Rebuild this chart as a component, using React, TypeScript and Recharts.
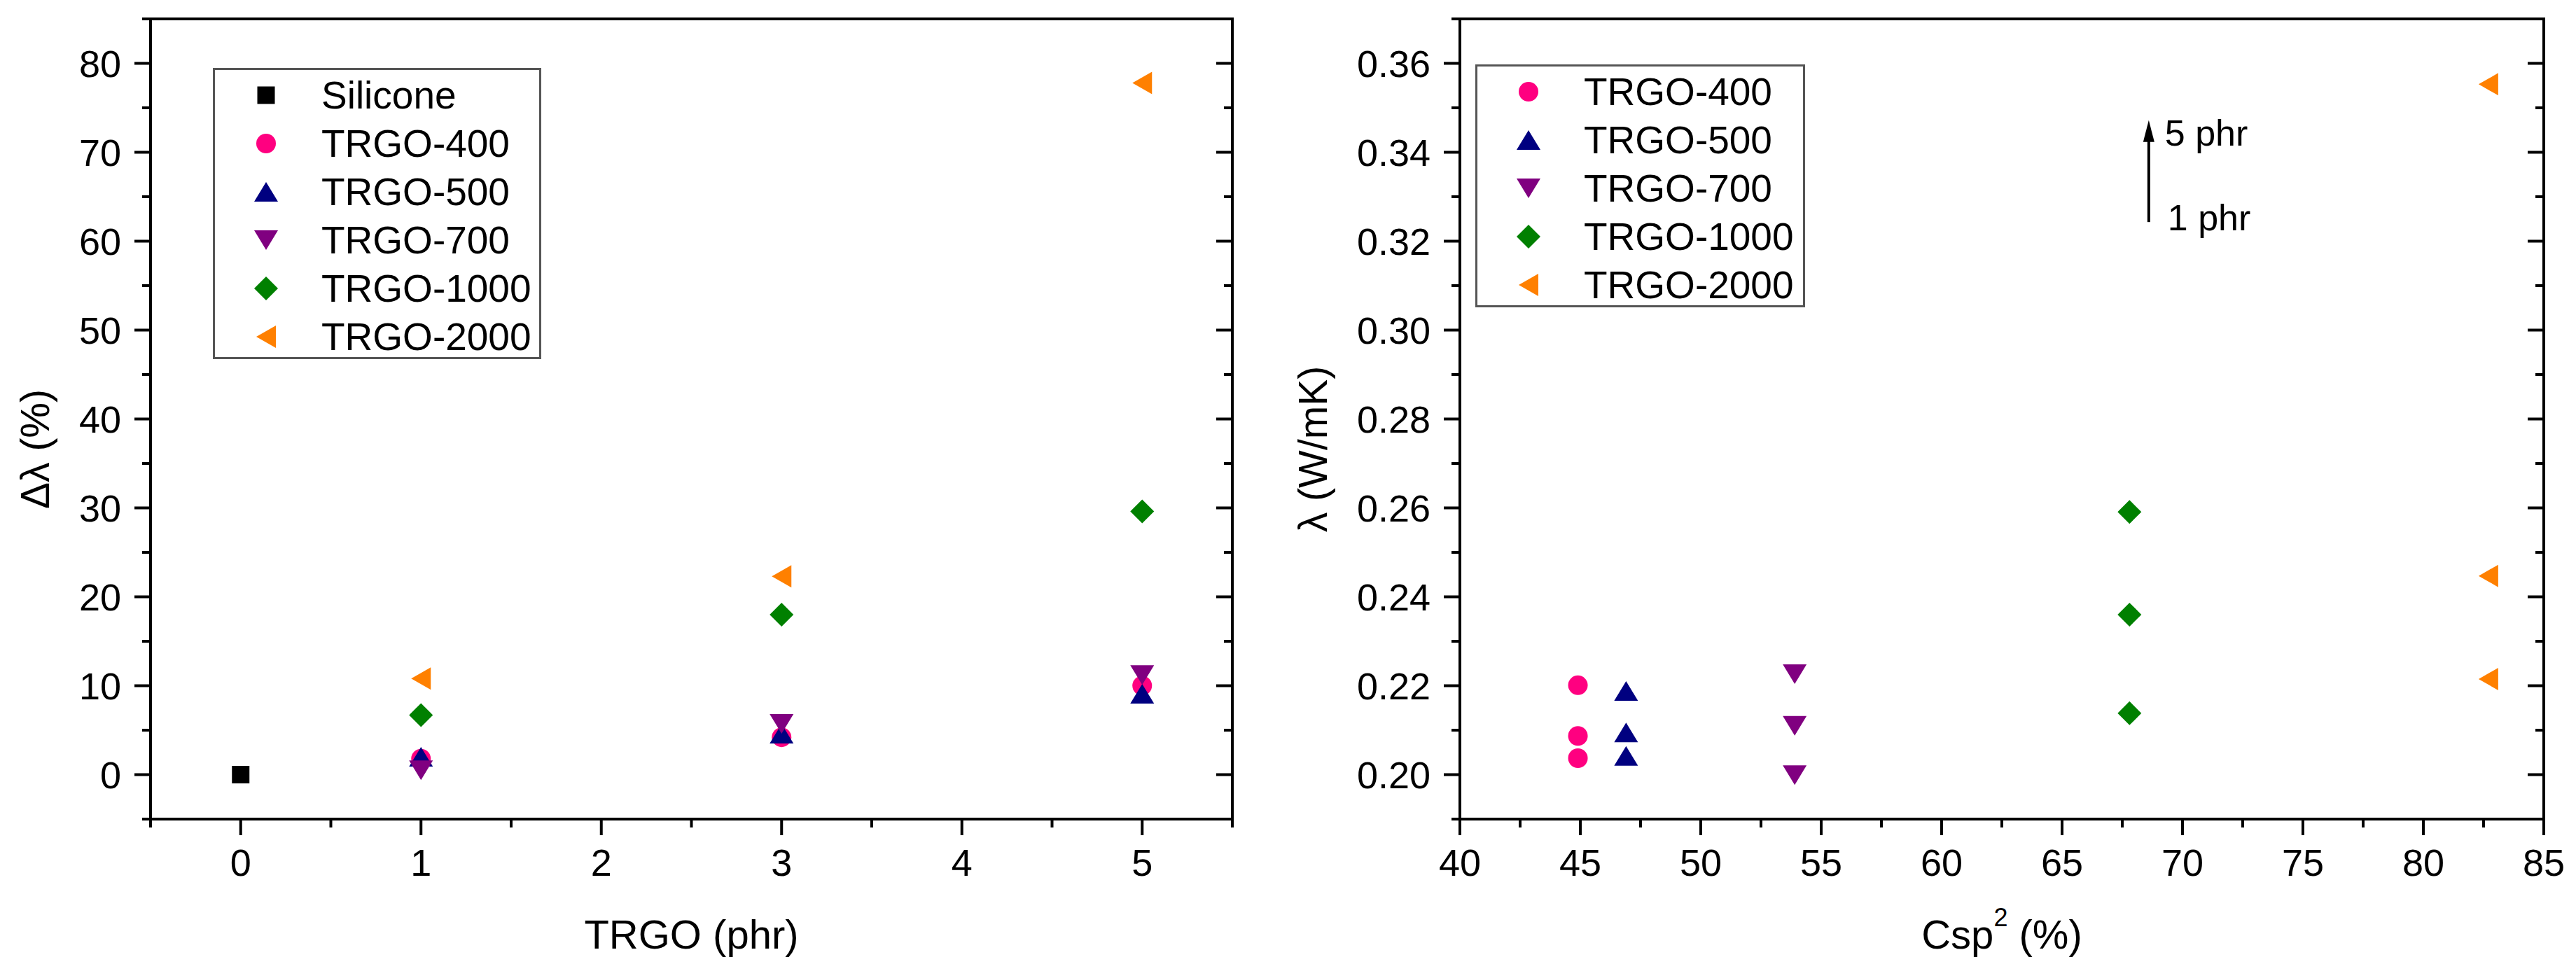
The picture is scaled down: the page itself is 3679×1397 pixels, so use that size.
import React from "react";
import { ScatterChart, Scatter, XAxis, YAxis, ReferenceLine } from "recharts";

const FONT = '"Liberation Sans", Arial, Helvetica, sans-serif';

// ---- left panel: relative increase of lambda vs TRGO loading ----
const phrLevels = [1, 3, 5];
const siliconeX = [0];
const siliconeY = [0];
const dl400 = [1.8, 4.2, 10.0];
const dl500 = [2.0, 4.6, 9.1];
const dl700 = [0.5, 5.7, 11.2];
const dl1000 = [6.7, 18.0, 29.6];
const dl2000 = [10.8, 22.3, 77.8];

// ---- right panel: lambda vs Csp2 (1, 3, 5 phr) ----
const csp400 = [44.9, 44.9, 44.9];
const csp500 = [46.9, 46.9, 46.9];
const csp700 = [53.9, 53.9, 53.9];
const csp1000 = [67.8, 67.8, 67.8];
const csp2000 = [82.7, 82.7, 82.7];
const lam400 = [0.2037, 0.2087, 0.2201];
const lam500 = [0.2042, 0.2095, 0.2188];
const lam700 = [0.1999, 0.211, 0.2226];
const lam1000 = [0.2138, 0.236, 0.2591];
const lam2000 = [0.2215, 0.2447, 0.3553];

// arrow annotation in the right panel
const arrowCsp = 68.6;
const arrowLow = 0.3243;
const arrowHigh = 0.3472;

// ticks (major + minor)
const leftXTicks = [-0.5, 0, 0.5, 1, 1.5, 2, 2.5, 3, 3.5, 4, 4.5, 5, 5.5];
const leftYTicks = [-5, 0, 5, 10, 15, 20, 25, 30, 35, 40, 45, 50, 55, 60, 65, 70, 75, 80, 85];
const rightXTicks = [40, 42.5, 45, 47.5, 50, 52.5, 55, 57.5, 60, 62.5, 65, 67.5, 70, 72.5, 75, 77.5, 80, 82.5, 85];
const rightYTicks = [0.19, 0.2, 0.21, 0.22, 0.23, 0.24, 0.25, 0.26, 0.27, 0.28, 0.29, 0.3, 0.31, 0.32, 0.33, 0.34, 0.35, 0.36, 0.37];

const C = {
  silicone: "#000000",
  t400: "#ff0080",
  t500: "#000080",
  t700: "#800080",
  t1000: "#008000",
  t2000: "#ff8000",
};

type Kind = "square" | "circle" | "up" | "down" | "diamond" | "left";

function Marker({ kind, color, cx, cy }: { kind: Kind; color: string; cx: number; cy: number }) {
  switch (kind) {
    case "square":
      return <rect x={cx - 12.5} y={cy - 12.5} width={25} height={25} fill={color} />;
    case "circle":
      return <circle cx={cx} cy={cy} r={14} fill={color} />;
    case "up":
      return <polygon points={`${cx},${cy - 14} ${cx + 17},${cy + 14} ${cx - 17},${cy + 14}`} fill={color} />;
    case "down":
      return <polygon points={`${cx - 17},${cy - 14} ${cx + 17},${cy - 14} ${cx},${cy + 14}`} fill={color} />;
    case "diamond":
      return <polygon points={`${cx},${cy - 17} ${cx + 17},${cy} ${cx},${cy + 17} ${cx - 17},${cy}`} fill={color} />;
    default:
      return <polygon points={`${cx - 14},${cy} ${cx + 14},${cy - 16} ${cx + 14},${cy + 16}`} fill={color} />;
  }
}

const pts = (xs: number[], ys: number[]) => xs.map((x, i) => ({ x, y: ys[i] }));

const leftSeries = [
  { name: "Silicone", kind: "square" as Kind, color: C.silicone, data: pts(siliconeX, siliconeY) },
  { name: "TRGO-400", kind: "circle" as Kind, color: C.t400, data: pts(phrLevels, dl400) },
  { name: "TRGO-500", kind: "up" as Kind, color: C.t500, data: pts(phrLevels, dl500) },
  { name: "TRGO-700", kind: "down" as Kind, color: C.t700, data: pts(phrLevels, dl700) },
  { name: "TRGO-1000", kind: "diamond" as Kind, color: C.t1000, data: pts(phrLevels, dl1000) },
  { name: "TRGO-2000", kind: "left" as Kind, color: C.t2000, data: pts(phrLevels, dl2000) },
];

const rightSeries = [
  { name: "TRGO-400", kind: "circle" as Kind, color: C.t400, data: pts(csp400, lam400) },
  { name: "TRGO-500", kind: "up" as Kind, color: C.t500, data: pts(csp500, lam500) },
  { name: "TRGO-700", kind: "down" as Kind, color: C.t700, data: pts(csp700, lam700) },
  { name: "TRGO-1000", kind: "diamond" as Kind, color: C.t1000, data: pts(csp1000, lam1000) },
  { name: "TRGO-2000", kind: "left" as Kind, color: C.t2000, data: pts(csp2000, lam2000) },
];

const line = { stroke: "#000", strokeWidth: 4 };
const axisLine = { stroke: "#000", strokeWidth: 4, strokeLinecap: "square" as const };
const MAJOR = 23;
const MINOR = 12;
const TICK_FONT = 54;

type Fmt = (v: number) => string;
type IsMajor = (v: number) => boolean;

const bottomTick = (isMajor: IsMajor, fmt: Fmt) => (p: any) => {
  const v = p.payload.value;
  const m = isMajor(v);
  return (
    <g>
      <line x1={p.x} x2={p.x} y1={p.y} y2={p.y + (m ? MAJOR : MINOR)} {...line} />
      {m && (
        <text x={p.x} y={p.y + 62} textAnchor="middle" dominantBaseline="central" fontSize={TICK_FONT} fontFamily={FONT} fill="#000">
          {fmt(v)}
        </text>
      )}
    </g>
  );
};

const topTick = (isMajor: IsMajor) => (p: any) => {
  const m = isMajor(p.payload.value);
  return <line x1={p.x} x2={p.x} y1={p.y} y2={p.y + (m ? MAJOR : MINOR)} {...line} />;
};

const leftTick = (isMajor: IsMajor, fmt: Fmt) => (p: any) => {
  const v = p.payload.value;
  const m = isMajor(v);
  return (
    <g>
      <line x1={p.x - (m ? MAJOR : MINOR)} x2={p.x} y1={p.y} y2={p.y} {...line} />
      {m && (
        <text x={p.x - 42} y={p.y} textAnchor="end" dominantBaseline="central" fontSize={TICK_FONT} fontFamily={FONT} fill="#000">
          {fmt(v)}
        </text>
      )}
    </g>
  );
};

const rightTick = (isMajor: IsMajor) => (p: any) => {
  const m = isMajor(p.payload.value);
  return <line x1={p.x - (m ? MAJOR : MINOR)} x2={p.x} y1={p.y} y2={p.y} {...line} />;
};

const xTitle = (render: () => React.ReactNode) => (lp: any) => {
  const vb = lp.viewBox ?? { x: 0, y: 0, width: 0, height: 0 };
  return (
    <text x={vb.x + vb.width / 2} y={vb.y + 164} textAnchor="middle" dominantBaseline="central" fontSize={58} fontFamily={FONT} fill="#000">
      {render()}
    </text>
  );
};

const yTitle = (text: string, dx: number) => (lp: any) => {
  const vb = lp.viewBox ?? { x: 0, y: 0, width: 0, height: 0 };
  const cx = vb.x + vb.width - dx;
  const cy = vb.y + vb.height / 2 + 43;
  return (
    <text x={cx} y={cy} transform={`rotate(-90 ${cx} ${cy})`} textAnchor="middle" dominantBaseline="central" fontSize={57} fontFamily={FONT} fill="#000">
      {text}
    </text>
  );
};

function LegendBox({ left, top, width, height, items }: any) {
  return (
    <svg width={width} height={height} style={{ position: "absolute", left, top }}>
      <rect x={1.5} y={1.5} width={width - 3} height={height - 3} fill="#fff" stroke="#555" strokeWidth={3} />
      {items.map((s: any, i: number) => (
        <g key={s.name}>
          <Marker kind={s.kind} color={s.color} cx={76} cy={39 + i * 69} />
          <text x={155} y={39 + i * 69} dominantBaseline="central" fontSize={55} fontFamily={FONT} fill="#000">
            {s.name}
          </text>
        </g>
      ))}
    </svg>
  );
}

const ArrowShape = (p: any) => {
  const x = p.x1;
  const yBottom = Math.max(p.y1, p.y2);
  const yTip = Math.min(p.y1, p.y2);
  return (
    <g>
      <line x1={x} x2={x} y1={yBottom} y2={yTip + 25} stroke="#000" strokeWidth={4} />
      <polygon points={`${x},${yTip} ${x + 8},${yTip + 31} ${x - 8},${yTip + 31}`} fill="#000" />
      <text x={x + 23} y={yTip + 18} dominantBaseline="central" fontSize={52} fontFamily={FONT} fill="#000">
        5 phr
      </text>
      <text x={x + 27} y={yBottom - 6} dominantBaseline="central" fontSize={52} fontFamily={FONT} fill="#000">
        1 phr
      </text>
    </g>
  );
};

const leftXMajor: IsMajor = (v) => Number.isInteger(v);
const leftYMajor: IsMajor = (v) => v % 10 === 0;
const rightXMajor: IsMajor = (v) => v % 5 === 0;
const rightYMajor: IsMajor = (v) => Math.round(v * 100) % 2 === 0;

// axes get a size of 1px: Recharts skips drawing an axis of zero width/height
const axisCommon = {
  type: "number" as const,
  interval: 0 as const,
  allowDataOverflow: true,
  tickLine: false,
  tickSize: 0,
  tickMargin: 0,
  axisLine,
};

// right panel chart starts a bit left of its frame so the y title fits in its svg
const RIGHT_LEFT = 1790;

export default function App() {
  return (
    <div style={{ position: "absolute", left: 0, top: 0, width: 3679, height: 1397, background: "#fff", overflow: "hidden" }}>
      {/* left panel */}
      <div style={{ position: "absolute", left: 0, top: 0, width: 1790, height: 1397 }}>
        <ScatterChart width={1790} height={1397} margin={{ top: 27, right: 30, bottom: 226, left: 214 }}>
          <XAxis
            {...axisCommon}
            xAxisId="b"
            dataKey="x"
            domain={[-0.5, 5.5]}
            ticks={leftXTicks}
            height={1}
            tick={bottomTick(leftXMajor, (v) => String(v))}
            label={{ content: xTitle(() => "TRGO (phr)") }}
          />
          <XAxis
            {...axisCommon}
            xAxisId="t"
            orientation="top"
            mirror
            domain={[-0.5, 5.5]}
            ticks={leftXTicks}
            height={1}
            tick={topTick(leftXMajor)}
          />
          <YAxis
            {...axisCommon}
            yAxisId="l"
            dataKey="y"
            domain={[-5, 85]}
            ticks={leftYTicks}
            width={1}
            tick={leftTick(leftYMajor, (v) => String(v))}
            label={{ content: yTitle("Δλ (%)", 165) }}
          />
          <YAxis
            {...axisCommon}
            yAxisId="r"
            orientation="right"
            mirror
            domain={[-5, 85]}
            ticks={leftYTicks}
            width={1}
            tick={rightTick(leftYMajor)}
          />
          {leftSeries.map((s) => (
            <Scatter
              key={s.name}
              name={s.name}
              data={s.data}
              xAxisId="b"
              yAxisId="l"
              fill={s.color}
              isAnimationActive={false}
              shape={(p: any) => <Marker kind={s.kind} color={s.color} cx={p.cx} cy={p.cy} />}
            />
          ))}
        </ScatterChart>
        <LegendBox left={304} top={97} width={469} height={416} items={leftSeries} />
      </div>

      {/* right panel */}
      <div style={{ position: "absolute", left: RIGHT_LEFT, top: 0, width: 3679 - RIGHT_LEFT, height: 1397 }}>
        <ScatterChart width={3679 - RIGHT_LEFT} height={1397} margin={{ top: 27, right: 46, bottom: 226, left: 2084 - RIGHT_LEFT }}>
          <XAxis
            {...axisCommon}
            xAxisId="b"
            dataKey="x"
            domain={[40, 85]}
            ticks={rightXTicks}
            height={1}
            tick={bottomTick(rightXMajor, (v) => String(v))}
            label={{
              content: xTitle(() => (
                <>
                  Csp
                  <tspan dy={-24} fontSize={36}>
                    2
                  </tspan>
                  <tspan dy={24}> (%)</tspan>
                </>
              )),
            }}
          />
          <XAxis
            {...axisCommon}
            xAxisId="t"
            orientation="top"
            mirror
            domain={[40, 85]}
            ticks={rightXTicks}
            height={1}
            tick={topTick(rightXMajor)}
          />
          <YAxis
            {...axisCommon}
            yAxisId="l"
            dataKey="y"
            domain={[0.19, 0.37]}
            ticks={rightYTicks}
            width={1}
            tick={leftTick(rightYMajor, (v) => v.toFixed(2))}
            label={{ content: yTitle("λ (W/mK)", 210) }}
          />
          <YAxis
            {...axisCommon}
            yAxisId="r"
            orientation="right"
            mirror
            domain={[0.19, 0.37]}
            ticks={rightYTicks}
            width={1}
            tick={rightTick(rightYMajor)}
          />
          <ReferenceLine
            xAxisId="b"
            yAxisId="l"
            segment={[
              { x: arrowCsp, y: arrowLow },
              { x: arrowCsp, y: arrowHigh },
            ]}
            stroke="#000"
            strokeWidth={4}
            ifOverflow="visible"
            shape={ArrowShape}
          />
          {rightSeries.map((s) => (
            <Scatter
              key={s.name}
              name={s.name}
              data={s.data}
              xAxisId="b"
              yAxisId="l"
              fill={s.color}
              isAnimationActive={false}
              shape={(p: any) => <Marker kind={s.kind} color={s.color} cx={p.cx} cy={p.cy} />}
            />
          ))}
        </ScatterChart>
        <LegendBox left={2107 - RIGHT_LEFT} top={92} width={471} height={347} items={rightSeries} />
      </div>
    </div>
  );
}
